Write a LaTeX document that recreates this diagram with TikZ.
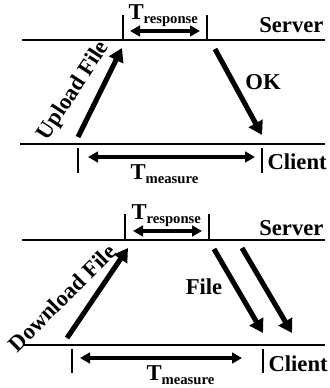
\documentclass[tikz,border=0pt]{standalone}
\usepackage{fontspec}
\setmainfont{Liberation Serif}
\usetikzlibrary{arrows.meta}

\tikzset{every picture/.style={line width=0.75pt}}
\tikzset{
timeline/.style={line width=2.1pt},
tickmark/.style={line width=2.1pt},
msg/.style={line width=3.8pt, -{Triangle[length=10pt,width=11.5pt]}},
span/.style={line width=2.3pt, {Triangle[length=7.5pt,width=8pt]}-{Triangle[length=7.5pt,width=8pt]}},
lbl/.style={font=\fontsize{17}{19}\selectfont\bfseries, inner sep=0pt}
}
% T with a lowered small tag
\newcommand{\tlabel}[1]{T\raisebox{-3pt}{\fontsize{11}{12}\selectfont #1}}

\begin{document}
\begin{tikzpicture}[x=0.75pt,y=0.75pt,yscale=-1,xscale=1]
\useasboundingbox (0,0) rectangle (329,388);

%%%%%%%%%% upload %%%%%%%%%%
% Time lines
\coordinate (us1) at (22,40);  \coordinate (us2) at (325,40);
\coordinate (uc1) at (20,144); \coordinate (uc2) at (325,144);
\draw [timeline] (us1) -- (us2) ;
\draw [timeline] (uc1) -- (uc2) ;
% Response window
\coordinate (ur1) at (123,15); \coordinate (ur1b) at (123,40);
\coordinate (ur2) at (207,15); \coordinate (ur2b) at (207,40);
\draw [tickmark] (ur1) -- (ur1b) ;
\draw [tickmark] (ur2) -- (ur2b) ;
\coordinate (ura) at (130,31); \coordinate (urb) at (200,31);
\draw [span] (ura) -- (urb) ;
% Messages
\coordinate (up0) at (78,137);  \coordinate (up1) at (122,48);
\draw [msg] (up0) -- (up1) ;
\coordinate (ok0) at (215,49);  \coordinate (ok1) at (262,135);
\draw [msg] (ok0) -- (ok1) ;
% Measure window
\coordinate (um1) at (78,148);  \coordinate (um1b) at (78,173);
\coordinate (um2) at (262,148); \coordinate (um2b) at (262,173);
\draw [tickmark] (um1) -- (um1b) ;
\draw [tickmark] (um2) -- (um2b) ;
\coordinate (uma) at (88,157); \coordinate (umb) at (255,157);
\draw [span] (uma) -- (umb) ;

% Text Node
\node (uresp) [lbl, anchor=base west] at (128,20) {\tlabel{response}};
% Text Node
\node (userv) [lbl, anchor=base east] at (324,33) {Server};
% Text Node
\node (uclnt) [lbl, anchor=base west] at (267,170) {Client};
% Text Node
\node (uload) [lbl, rotate=57] at (74,91) {Upload File};
% Text Node
\node (uok) [lbl] at (263,82) {OK};
% Text Node
\node (umeas) [lbl, anchor=base west] at (130,180) {\tlabel{measure}};

%%%%%%%%%% download %%%%%%%%%%
% Time lines
\coordinate (ds1) at (22,240);  \coordinate (ds2) at (325,240);
\coordinate (dc1) at (23,345);  \coordinate (dc2) at (325,345);
\draw [timeline] (ds1) -- (ds2) ;
\draw [timeline] (dc1) -- (dc2) ;
% Response window
\coordinate (dr1) at (125,214); \coordinate (dr1b) at (125,240);
\coordinate (dr2) at (209,214); \coordinate (dr2b) at (209,240);
\draw [tickmark] (dr1) -- (dr1b) ;
\draw [tickmark] (dr2) -- (dr2b) ;
\coordinate (dra) at (133,231); \coordinate (drb) at (202,231);
\draw [span] (dra) -- (drb) ;
% Messages
\coordinate (dn0) at (67,338);  \coordinate (dn1) at (128,248);
\draw [msg] (dn0) -- (dn1) ;
\coordinate (fa0) at (214,249); \coordinate (fa1) at (263,333);
\draw [msg] (fa0) -- (fa1) ;
\coordinate (fb0) at (242,248); \coordinate (fb1) at (292,333);
\draw [msg] (fb0) -- (fb1) ;
% Measure window
\coordinate (dm1) at (72,349);  \coordinate (dm1b) at (72,373);
\coordinate (dm2) at (263,349); \coordinate (dm2b) at (263,373);
\draw [tickmark] (dm1) -- (dm1b) ;
\draw [tickmark] (dm2) -- (dm2b) ;
\coordinate (dma) at (80,358); \coordinate (dmb) at (242,358);
\draw [span] (dma) -- (dmb) ;

% Text Node
\node (dresp) [lbl, anchor=base west] at (131,219) {\tlabel{response}};
% Text Node
\node (dserv) [lbl, anchor=base east] at (324,235) {Server};
% Text Node
\node (dclnt) [lbl, anchor=base west] at (268,371) {Client};
% Text Node
\node (dload) [lbl, rotate=45] at (62,298) {Download File};
% Text Node
\node (dfile) [lbl] at (204,287) {File};
% Text Node
\node (dmeas) [lbl, anchor=base west] at (146,380) {\tlabel{measure}};

\end{tikzpicture}
\end{document}
